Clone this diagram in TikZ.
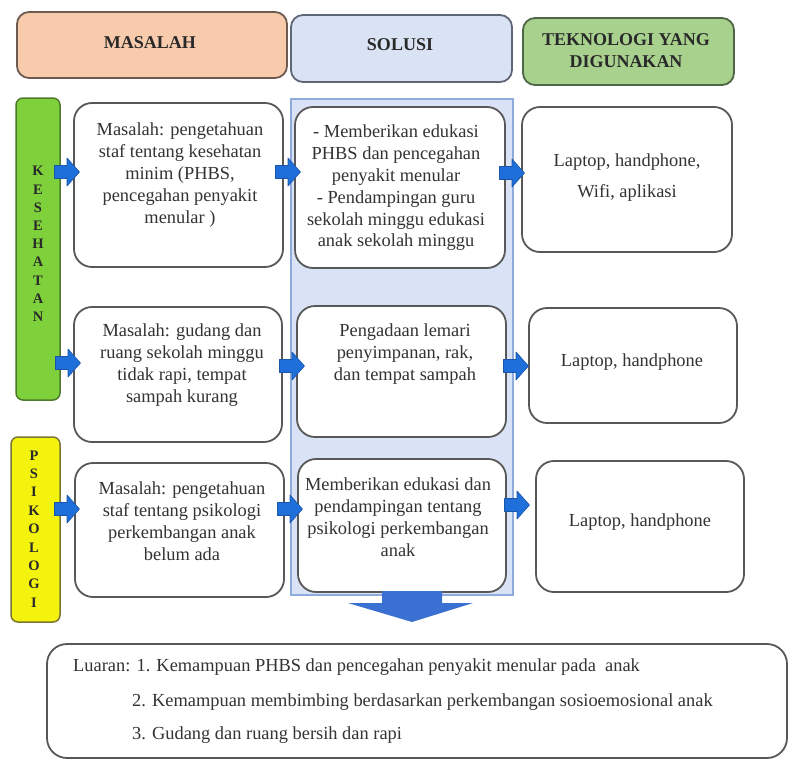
\documentclass[tikz,border=0pt]{standalone}
\usepackage{fontspec}
\setmainfont{Liberation Serif}
\usetikzlibrary{calc}
\definecolor{txtc}{HTML}{333333}
\definecolor{bordc}{HTML}{585858}
\definecolor{orfill}{HTML}{F8CBAD}
\definecolor{orbord}{HTML}{6E5A4E}
\definecolor{blfill}{HTML}{DAE3F3}
\definecolor{blbord}{HTML}{5F6675}
\definecolor{grfill}{HTML}{A9D18E}
\definecolor{grbord}{HTML}{4E6645}
\definecolor{kesfill}{HTML}{7FD13B}
\definecolor{kesbord}{HTML}{4D7A2C}
\definecolor{psifill}{HTML}{F3F30E}
\definecolor{psibord}{HTML}{7A7530}
\definecolor{colbg}{HTML}{D9E3F5}
\definecolor{colbord}{HTML}{8FAADC}
\definecolor{arrc}{HTML}{1E6FD9}
\definecolor{arrd}{HTML}{1A55A8}
\definecolor{bigarr}{HTML}{3A70D2}
\begin{document}
\begin{tikzpicture}[x=1pt,y=-1pt,
  box/.style={draw=bordc, line width=1.8pt, rounded corners=18pt, fill=white, inner sep=0pt},
  headbox/.style={line width=1.8pt, rounded corners=12pt, inner sep=0pt},
  bar/.style={line width=1.5pt, rounded corners=7pt, inner sep=0pt},
  txt/.style={text=txtc, align=center, font=\fontsize{18.4}{21.8}\selectfont, inner sep=0pt},
  htxt/.style={text=txtc!80!black, align=center, font=\fontsize{18}{22}\selectfont\bfseries, inner sep=0pt},
  ltxt/.style={text=txtc!80!black, align=center, font=\fontsize{14.5}{18.2}\selectfont\bfseries, inner sep=0pt},
  otxt/.style={text=txtc, anchor=west, font=\fontsize{18.4}{21.8}\selectfont, inner sep=0pt},
  rarrow/.pic={\filldraw[fill=arrc, draw=arrd, line width=0.6pt, line join=round]
     (-12.5,-6.5) -- (0,-6.5) -- (0,-14) -- (12.5,0) -- (0,14) -- (0,6.5) -- (-12.5,6.5) -- cycle;}
]
\useasboundingbox (0,0) rectangle (789,763);

% solusi column background
\node[draw=colbord, fill=colbg, line width=1.2pt, inner sep=0pt, minimum width=222pt, minimum height=496pt] (col) at (402,347) {};

% headers
\node[headbox, draw=orbord, fill=orfill, minimum width=270pt, minimum height=66pt] (hm) at (152,45) {};
\node[htxt] (hmt) at (150,43) {MASALAH};
\node[headbox, draw=blbord, fill=blfill, minimum width=221pt, minimum height=67pt] (hs) at (401.5,48.5) {};
\node[htxt] (hst) at (400,45) {SOLUSI};
\node[headbox, draw=grbord, fill=grfill, minimum width=211pt, minimum height=67pt] (ht) at (628.5,51.5) {};
\node[htxt] (htt) at (626,51) {TEKNOLOGI YANG\\DIGUNAKAN};

% side bars
\node[bar, draw=kesbord, fill=kesfill, minimum width=44pt, minimum height=302pt] (kes) at (38,249) {};
\node[ltxt] (kest) at (38,244) {K\\E\\S\\E\\H\\A\\T\\A\\N};
\node[bar, draw=psibord, fill=psifill, minimum width=49pt, minimum height=185pt] (psi) at (35.5,529.5) {};
\node[ltxt, font=\fontsize{14.5}{18.4}\selectfont\bfseries] (psit) at (34,529) {P\\S\\I\\K\\O\\L\\O\\G\\I};

% row 1
\node[box, minimum width=209pt, minimum height=164pt] (m1) at (178.5,185) {};
\node[txt] (m1t) at (180,175) {Masalah: pengetahuan\\staf tentang kesehatan\\minim (PHBS,\\pencegahan penyakit\\menular )};
\node[box, minimum width=210pt, minimum height=161pt] (s1) at (400,187.5) {};
\node[txt] (s1t) at (396,188) {- Memberikan edukasi\\PHBS dan pencegahan\\penyakit menular\\- Pendampingan guru\\sekolah minggu edukasi\\anak sekolah minggu};
\node[box, minimum width=210pt, minimum height=145pt] (t1) at (627,179.5) {};
\node[txt, font=\fontsize{18.4}{31}\selectfont] (t1t) at (627,178) {Laptop, handphone,\\Wifi, aplikasi};

% row 2
\node[box, minimum width=208pt, minimum height=135pt] (m2) at (178,374.5) {};
\node[txt] (m2t) at (182,365) {Masalah: gudang dan\\ruang sekolah minggu\\tidak rapi, tempat\\sampah kurang};
\node[box, minimum width=209pt, minimum height=131pt] (s2) at (401.5,371.5) {};
\node[txt] (s2t) at (405,354) {Pengadaan lemari\\penyimpanan, rak,\\dan tempat sampah};
\node[box, minimum width=208pt, minimum height=115pt] (t2) at (633,365.5) {};
\node[txt] (t2t) at (632,362) {Laptop, handphone};

% row 3
\node[box, minimum width=209pt, minimum height=134pt] (m3) at (179.5,530) {};
\node[txt] (m3t) at (182,521) {Masalah: pengetahuan\\staf tentang psikologi\\perkembangan anak\\belum ada};
\node[box, minimum width=208pt, minimum height=133pt] (s3) at (402,525.5) {};
\node[txt] (s3t) at (398,517) {Memberikan edukasi dan\\pendampingan tentang\\psikologi perkembangan\\anak};
\node[box, minimum width=208pt, minimum height=131pt] (t3) at (640,526.5) {};
\node[txt] (t3t) at (640,522) {Laptop, handphone};

% small block arrows
\pic at (67,172) {rarrow};
\pic at (288,172) {rarrow};
\pic at (512,173) {rarrow};
\pic at (68,363) {rarrow};
\pic at (292,366) {rarrow};
\pic at (516,366) {rarrow};
\pic at (67,509) {rarrow};
\pic at (290,509) {rarrow};
\pic at (517,505) {rarrow};

% big down arrow
\fill[bigarr] (382,591) -- (442,591) -- (442,603) -- (473,603) -- (412,622) -- (348,603) -- (382,603) -- cycle;

% output box
\node[box, rounded corners=20pt, minimum width=740pt, minimum height=114pt] (out) at (417,701) {};
\node[otxt] (o1) at (73,667) {Luaran: 1. Kemampuan PHBS dan pencegahan penyakit menular pada\ \ anak};
\node[otxt] (o2) at (132,702) {2. Kemampuan membimbing berdasarkan perkembangan sosioemosional anak};
\node[otxt] (o3) at (132,735) {3. Gudang dan ruang bersih dan rapi};
\end{tikzpicture}
\end{document}
